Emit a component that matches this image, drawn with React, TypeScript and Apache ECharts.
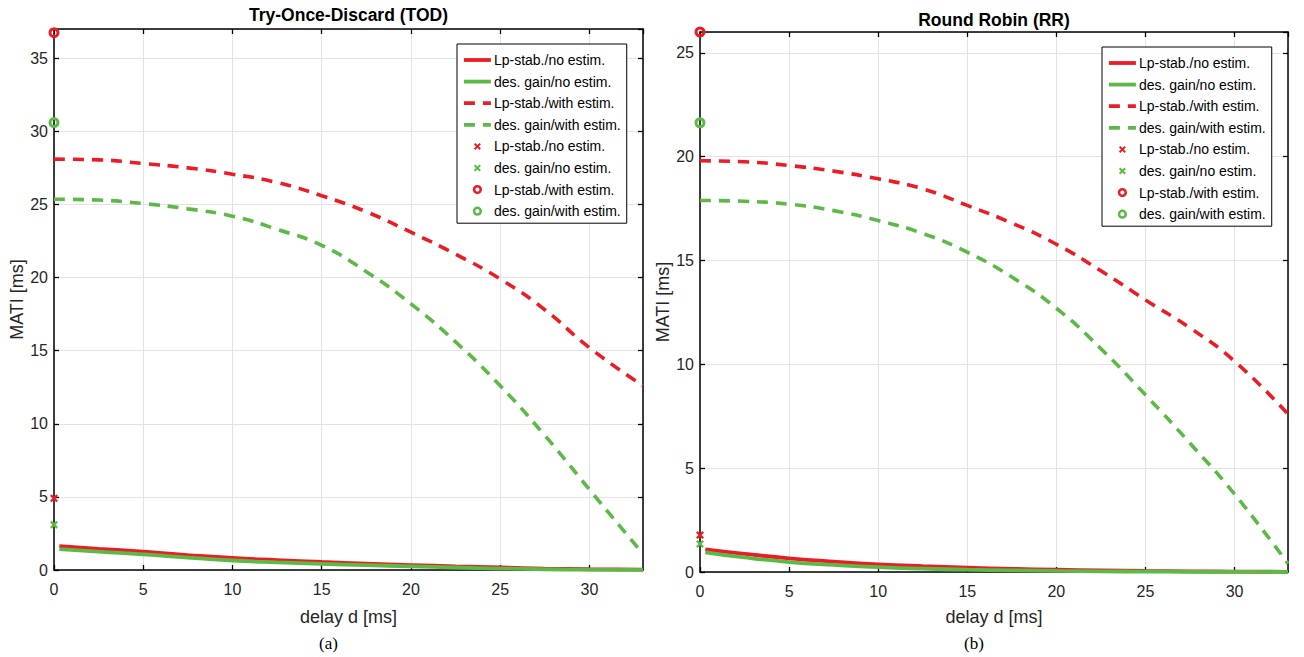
import React, { useEffect, useRef } from "react";
import * as echarts from "echarts";

// ---------- data ----------
const delayDashed = [0, 2.5, 5, 7.5, 10, 12.5, 15, 17.5, 20, 22.5, 25, 27.5, 30, 33];
const delaySolid = [0.3, 2.5, 5, 7.5, 10, 12.5, 15, 17.5, 20, 22.5, 25, 27.5, 30, 33];

// Try-Once-Discard (TOD)
const todLpNoEst = [1.64, 1.45, 1.25, 1.02, 0.82, 0.68, 0.55, 0.44, 0.34, 0.25, 0.17, 0.1, 0.05, 0.02];
const todDesNoEst = [1.43, 1.25, 1.07, 0.85, 0.65, 0.52, 0.42, 0.33, 0.25, 0.17, 0.1, 0.05, 0.02, 0.01];
const todLpEst = [28.1, 28.05, 27.8, 27.5, 27.07, 26.5, 25.6, 24.5, 23.1, 21.6, 19.9, 17.8, 15.2, 12.6];
const todDesEst = [25.36, 25.3, 25.06, 24.7, 24.2, 23.3, 22.2, 20.4, 18.2, 15.6, 12.6, 9.2, 5.5, 1.1];
const todPoints = [4.9, 3.1, 36.75, 30.6]; // Lp no est, des no est, Lp est, des est (at d = 0)

// Round Robin (RR)
const rrLpNoEst = [1.09, 0.87, 0.66, 0.5, 0.37, 0.28, 0.21, 0.15, 0.11, 0.08, 0.05, 0.03, 0.02, 0.01];
const rrDesNoEst = [0.95, 0.7, 0.48, 0.34, 0.23, 0.16, 0.11, 0.08, 0.05, 0.03, 0.02, 0.01, 0.005, 0];
const rrLpEst = [19.8, 19.75, 19.57, 19.3, 18.93, 18.45, 17.65, 16.8, 15.78, 14.5, 13.1, 11.75, 10.15, 7.6];
const rrDesEst = [17.89, 17.85, 17.71, 17.4, 16.92, 16.3, 15.4, 14.2, 12.7, 10.75, 8.53, 6.2, 3.75, 0.4];
const rrPoints = [1.78, 1.35, 26.0, 21.63];

const legendLabels = [
  "Lp-stab./no estim.",
  "des. gain/no estim.",
  "Lp-stab./with estim.",
  "des. gain/with estim.",
  "Lp-stab./no estim.",
  "des. gain/no estim.",
  "Lp-stab./with estim.",
  "des. gain/with estim.",
];

const panelTitles = ["Try-Once-Discard (TOD)", "Round Robin (RR)"];
const panelCaptions = ["(a)", "(b)"];
const xName = "delay d [ms]";
const yName = "MATI [ms]";
const xMax = 33;
const yMaxes = [37, 26];

// ---------- style ----------
const RED = "#ec1c24";
const GREEN = "#5cb946";
const FONT = "Liberation Sans, Arial, Helvetica, sans-serif";
const TXT = "#262626";

const X_PATH = "path://M0,2 L2,0 L5,3 L8,0 L10,2 L7,5 L10,8 L8,10 L5,7 L2,10 L0,8 L3,5 Z";
const RING_PATH =
  "path://M5.5,0 A5.5,5.5 0 1,1 5.5,11 A5.5,5.5 0 1,1 5.5,0 Z M5.5,3 A2.5,2.5 0 1,0 5.5,8 A2.5,2.5 0 1,0 5.5,3 Z";
const X_LEGEND =
  "path://M0,0 M20,20 M5,7 L7,5 L10,8 L13,5 L15,7 L12,10 L15,13 L13,15 L10,12 L7,15 L5,13 L8,10 Z";
const RING_LEGEND =
  "path://M0,0 M20,20 M10,3.4 A6.6,6.6 0 1,1 10,16.6 A6.6,6.6 0 1,1 10,3.4 Z M10,7 A3,3 0 1,0 10,13 A3,3 0 1,0 10,7 Z";

const grids = [
  { left: 54, top: 29, width: 589, height: 541 },
  { left: 700, top: 32, width: 588, height: 540 },
];

function pairs(xs: number[], ys: number[]) {
  return xs.map((x, i) => [x, ys[i]]);
}

function buildOption() {
  const xAxis: any[] = [];
  const yAxis: any[] = [];
  const series: any[] = [];
  const legend: any[] = [];
  const nameMap: Record<string, string> = {};

  const panels = [
    { prefix: "tod", solid: [todLpNoEst, todDesNoEst], dashed: [todLpEst, todDesEst], pts: todPoints },
    { prefix: "rr", solid: [rrLpNoEst, rrDesNoEst], dashed: [rrLpEst, rrDesEst], pts: rrPoints },
  ];

  panels.forEach((p, gi) => {
    const axisLine = { show: true, onZero: false, lineStyle: { color: "#000", width: 1.5 } };
    const axisTick = { show: true, inside: true, length: 5, lineStyle: { color: "#000", width: 1.3 } };
    const splitLine = { show: true, lineStyle: { color: "#e3e3e3", width: 1 } };
    xAxis.push({
      type: "value", gridIndex: gi, position: "bottom", min: 0, max: xMax, interval: 5,
      name: xName, nameLocation: "middle", nameGap: gi === 0 ? 38 : 36,
      nameTextStyle: { fontSize: 18, color: TXT, fontFamily: FONT },
      axisLine, axisTick, splitLine,
      axisLabel: { fontSize: 16, color: TXT, fontFamily: FONT, margin: 11, showMaxLabel: false },
    });
    xAxis.push({
      type: "value", gridIndex: gi, position: "top", min: 0, max: xMax, interval: 5,
      axisLine, axisTick, splitLine: { show: false }, axisLabel: { show: false },
    });
    yAxis.push({
      type: "value", gridIndex: gi, position: "left", min: 0, max: yMaxes[gi], interval: 5,
      name: yName, nameLocation: "middle", nameGap: gi === 0 ? 27 : 28, nameRotate: 90,
      nameTextStyle: { fontSize: 18, color: TXT, fontFamily: FONT },
      axisLine, axisTick, splitLine,
      axisLabel: { fontSize: 16, color: TXT, fontFamily: FONT, margin: 6, showMaxLabel: false },
    });
    yAxis.push({
      type: "value", gridIndex: gi, position: "right", min: 0, max: yMaxes[gi], interval: 5,
      axisLine, axisTick, splitLine: { show: false }, axisLabel: { show: false },
    });

    const xi = gi * 2;
    const names = legendLabels.map((_, k) => `${p.prefix}-${k}`);
    names.forEach((n, k) => (nameMap[n] = legendLabels[k]));
    const colors = [RED, GREEN];

    p.solid.forEach((ys, k) => {
      series.push({
        name: names[k], type: "line", xAxisIndex: xi, yAxisIndex: xi,
        data: pairs(delaySolid, ys), symbol: "none", showSymbol: false, smooth: true,
        lineStyle: { color: colors[k], width: 3.8, type: "solid" }, itemStyle: { color: colors[k] }, z: 3,
      });
    });
    p.dashed.forEach((ys, k) => {
      series.push({
        name: names[2 + k], type: "line", xAxisIndex: xi, yAxisIndex: xi,
        data: pairs(delayDashed, ys), symbol: "none", showSymbol: false, smooth: true,
        lineStyle: { color: colors[k], width: 3.6, type: [11, 8] }, itemStyle: { color: colors[k] }, z: 3,
      });
    });
    p.pts.forEach((v, k) => {
      series.push({
        name: names[4 + k], type: "scatter", xAxisIndex: xi, yAxisIndex: xi,
        data: [[0, v]], symbol: k < 2 ? X_PATH : RING_PATH, symbolSize: k < 2 ? 8 : 11,
        itemStyle: { color: colors[k % 2], borderWidth: 0, opacity: 1 }, clip: false, z: 5,
      });
    });

    legend.push({
      orient: "vertical",
      left: gi === 0 ? 457 : 1102,
      top: gi === 0 ? 44 : 47,
      padding: [9, 6, 5, 5],
      itemWidth: 27,
      itemHeight: 14,
      itemGap: 7.6,
      selectedMode: false,
      backgroundColor: "#fff",
      borderColor: "#000",
      borderWidth: 1,
      borderRadius: 0,
      lineStyle: { width: 3.8 },
      textStyle: { fontSize: 14, color: "#000", fontFamily: FONT, padding: [0, 0, 0, -2] },
      formatter: (n: string) => nameMap[n] ?? n,
      data: names.map((n, k) =>
        k < 4
          ? { name: n, itemStyle: { opacity: 0 } }
          : { name: n, icon: k < 6 ? X_LEGEND : RING_LEGEND }
      ),
    });
  });

  const graphic: any[] = [];
  panelTitles.forEach((t, gi) => {
    const g = grids[gi];
    graphic.push({
      type: "text", x: g.left + g.width / 2, y: gi === 0 ? 15 : 20,
      style: { text: t, fill: "#000", font: `bold 17.5px ${FONT}`, textAlign: "center", textVerticalAlign: "middle" },
    });
    graphic.push({
      type: "text", x: g.left + g.width / 2 - 20, y: 643,
      style: { text: panelCaptions[gi], fill: "#000", font: `17px "Liberation Serif", "Times New Roman", serif`, textAlign: "center", textVerticalAlign: "middle" },
    });
  });

  return {
    animation: false,
    backgroundColor: "#fff",
    grid: grids.map((g) => ({ ...g, containLabel: false, outerBoundsMode: "none", show: false })),
    xAxis, yAxis, series, legend, graphic,
    tooltip: { show: false },
  };
}

export default function App() {
  const ref = useRef<HTMLDivElement>(null);
  useEffect(() => {
    if (!ref.current) return;
    const chart = echarts.init(ref.current, undefined, { renderer: "svg" });
    chart.setOption(buildOption() as any);
    return () => chart.dispose();
  }, []);
  return (
    <div
      ref={ref}
      style={{ position: "absolute", left: 0, top: 0, width: 1304, height: 657, background: "#fff" }}
    />
  );
}
